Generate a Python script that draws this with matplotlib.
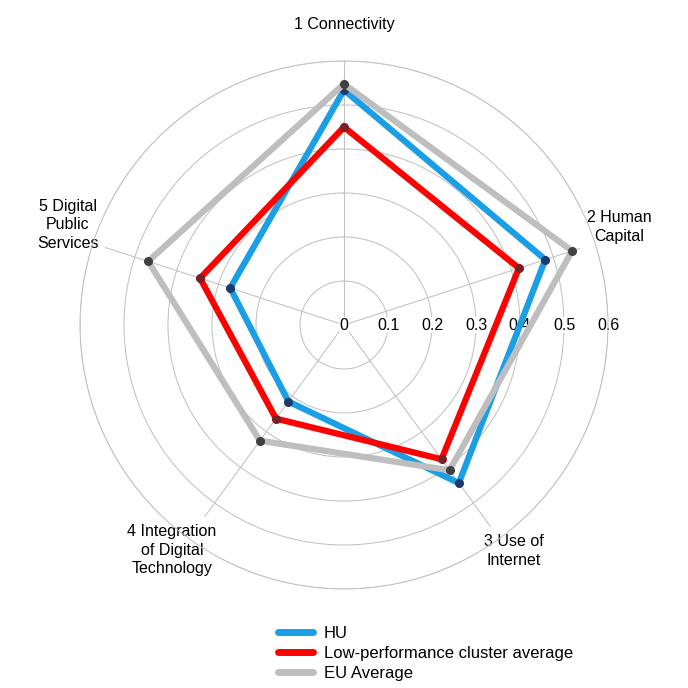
import numpy as np
import matplotlib.pyplot as plt
from matplotlib.lines import Line2D

plt.rcParams['font.family'] = ['Liberation Sans', 'DejaVu Sans']

categories = ["1 Connectivity", "2 Human\nCapital", "3 Use of\nInternet",
              "4 Integration\nof Digital\nTechnology", "5 Digital\nPublic\nServices"]
series_names = ["HU", "Low-performance cluster average", "EU Average"]
hu = [0.534, 0.481, 0.444, 0.215, 0.272]
low = [0.450, 0.418, 0.377, 0.263, 0.344]
eu = [0.548, 0.545, 0.408, 0.325, 0.468]
rticks = [0, 0.1, 0.2, 0.3, 0.4, 0.5, 0.6]
rtick_labels = ["0", "0.1", "0.2", "0.3", "0.4", "0.5", "0.6"]

line_colors = ["#1A9FE6", "#FF0000", "#BEBEBE"]
marker_colors = ["#1B3A6B", "#7A1F25", "#404040"]

W = H = 688
fig = plt.figure(figsize=(W / 100, H / 100), dpi=100)
cx, cy, R = 344, 325, 264
ax = fig.add_axes([(cx - R) / W, (H - cy - R) / H, 2 * R / W, 2 * R / H], projection='polar')
ax.set_theta_zero_location('N')
ax.set_theta_direction(-1)

n = len(categories)
theta = np.arange(n) * 2 * np.pi / n
ax.set_ylim(0, 0.6)
ax.set_xticks(theta)
ax.set_xticklabels([])
ax.set_yticks(rticks[1:])
ax.set_yticklabels([])
ax.grid(True, color='#C2C2C2', lw=0.75)
ax.spines['polar'].set_color('#C2C2C2')
ax.spines['polar'].set_linewidth(0.75)

fs = 11.5
# radial labels along the east direction
for r, lab in zip(rticks, rtick_labels):
    ax.text(np.pi / 2, r, lab, ha='center', va='center', fontsize=fs, zorder=2,
            bbox=dict(facecolor='white', edgecolor='none', pad=0.5))

# axis labels
lab_r = [0.684, 0.664, 0.642, 0.644, 0.668]
lab_t = [0, 70.4, 143, 217.4, 289.9]
for lab, r, t in zip(categories, lab_r, lab_t):
    ax.text(np.deg2rad(t), r, lab, ha='center', va='center', multialignment='center',
            fontsize=fs, zorder=2, clip_on=False, linespacing=1.32,
            bbox=dict(facecolor='white', edgecolor='none', pad=5))

for vals, lc, mc, name in zip([hu, low, eu], line_colors, marker_colors, series_names):
    tt = np.concatenate([theta, theta[:1]])
    vv = np.concatenate([vals, vals[:1]])
    ax.plot(tt, vv, color=lc, lw=4.5, zorder=3, solid_joinstyle='miter')
    ax.plot(theta, vals, 'o', color=mc, ms=5.5, zorder=3)

handles = [Line2D([0], [0], color=c, lw=5, solid_capstyle='round') for c in line_colors]
fig.legend(handles, series_names, loc='center left',
           bbox_to_anchor=(278 / W, 1 - 653.5 / H), frameon=False, fontsize=12,
           handlelength=2.1, handletextpad=0.65, labelspacing=0.3,
           borderpad=0, borderaxespad=0)

fig.savefig('out.png', dpi=100)
